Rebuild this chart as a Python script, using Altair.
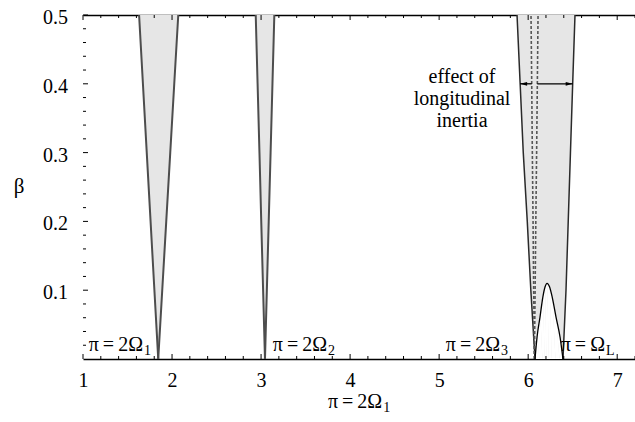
import altair as alt
import pandas as pd

# ---------------- data ----------------
beta_levels = [0.0, 0.1, 0.2, 0.3, 0.4, 0.5]

t1_left = [1.845, 1.802, 1.759, 1.716, 1.673, 1.63]
t1_right = [1.845, 1.89, 1.935, 1.98, 2.025, 2.07]

t2_left = [3.044, 3.023, 3.002, 2.982, 2.961, 2.94]
t2_right = [3.044, 3.065, 3.086, 3.107, 3.128, 3.149]

t3_left = [6.077, 6.03, 5.99, 5.945, 5.91, 5.875]
t3_right = [6.391, 6.425, 6.45, 6.475, 6.50, 6.526]

t3_dash_left = [6.07, 6.062, 6.055, 6.047, 6.04, 6.032]
t3_dash_right = [6.07, 6.078, 6.086, 6.095, 6.103, 6.111]

arch_x = [6.077, 6.10, 6.133, 6.165, 6.19, 6.212, 6.24, 6.27, 6.313, 6.358, 6.391]
arch_beta = [0.0, 0.032, 0.061, 0.09, 0.105, 0.11, 0.105, 0.09, 0.061, 0.032, 0.0]

arrow_beta = 0.40
arrow_left = [5.91, 6.04]
arrow_right = [6.103, 6.50]

x_major = [1, 2, 3, 4, 5, 6, 7]
x_minor = [1.2, 1.4, 1.6, 1.8, 2.2, 2.4, 2.6, 2.8, 3.2, 3.4, 3.6, 3.8,
           4.2, 4.4, 4.6, 4.8, 5.2, 5.4, 5.6, 5.8, 6.2, 6.4, 6.6, 6.8, 7.2]
y_major = [0.1, 0.2, 0.3, 0.4, 0.5]
y_major_labels = ["0.1", "0.2", "0.3", "0.4", "0.5"]
y_minor = [0.02, 0.04, 0.06, 0.08, 0.12, 0.14, 0.16, 0.18, 0.22, 0.24, 0.26,
           0.28, 0.32, 0.34, 0.36, 0.38, 0.42, 0.44, 0.46, 0.48]

label_main = ["π\u2009=\u20092Ω", "π\u2009=\u20092Ω", "π\u2009=\u20092Ω", "π\u2009=\u2009Ω"]
label_sub = ["1", "2", "3", "L"]
label_x = [1.674, 3.741, 5.684, 6.863]

note_lines = ["effect of", "longitudinal", "inertia"]
note_beta = [0.41, 0.378, 0.346]
note_x = 5.257

y_title = "β"
y_title_beta = 0.25

# ---------------- layout ----------------
W, H = 552, 344
FONT = "Liberation Serif, Times New Roman, serif"
FS = 20
xs = alt.Scale(domain=[1, 7.2], nice=False, zero=False)
ys = alt.Scale(domain=[0, 0.5], nice=False, zero=False)

fill_df = pd.concat([
    pd.DataFrame({"tongue": "T1", "beta": beta_levels, "left": t1_left, "right": t1_right}),
    pd.DataFrame({"tongue": "T2", "beta": beta_levels, "left": t2_left, "right": t2_right}),
    pd.DataFrame({"tongue": "T3", "beta": beta_levels, "left": t3_left, "right": t3_right}),
])


def long(name, vals):
    return pd.DataFrame({"line": name, "beta": beta_levels, "x": vals})


outer12 = pd.concat([long("a", t1_left), long("b", t1_right), long("c", t2_left), long("d", t2_right)])
outer3 = pd.concat([long("e", t3_left), long("f", t3_right)])
dashed = pd.concat([long("g", t3_dash_left), long("h", t3_dash_right)])
arch_df = pd.DataFrame({"x": arch_x, "beta": arch_beta, "i": list(range(len(arch_x)))})

fills = alt.Chart(fill_df).mark_area(orient="horizontal", color="#e6e6e6").encode(
    y=alt.Y("beta:Q", scale=ys, axis=alt.Axis(
        orient="left", labels=False, ticks=False, grid=False, domainColor="black",
        domainWidth=1.5, title=None)),
    x=alt.X("left:Q", scale=xs, axis=alt.Axis(
        orient="bottom", values=x_major, format="d", ticks=False, tickSize=0, grid=False,
        domainColor="black", domainWidth=1.5, labelFont=FONT, labelFontSize=FS,
        labelColor="black", labelPadding=11, labelFlush=False, title=None)),
    x2="right:Q",
    detail="tongue:N",
)

top_axis = alt.Chart(pd.DataFrame({"x": x_major})).mark_rule(color="black", strokeWidth=1).encode(
    x=alt.X("x:Q", scale=xs, axis=alt.Axis(
        orient="top", labels=False, ticks=False, grid=False, domainColor="black",
        domainWidth=1.5, title=None)),
    y=alt.value(0), y2=alt.value(5),
)

arch_fill = alt.Chart(arch_df).mark_area(color="white", interpolate="monotone").encode(
    x=alt.X("x:Q", scale=xs, axis=None), y=alt.Y("beta:Q", scale=ys, axis=None), order="i:Q")

lines12 = alt.Chart(outer12).mark_line(color="#4d4d4d", strokeWidth=2).encode(
    x=alt.X("x:Q", scale=xs, axis=None), y=alt.Y("beta:Q", scale=ys, axis=None),
    detail="line:N", order="beta:Q")
lines3 = alt.Chart(outer3).mark_line(color="#2a2a2a", strokeWidth=1.5).encode(
    x=alt.X("x:Q", scale=xs, axis=None), y=alt.Y("beta:Q", scale=ys, axis=None),
    detail="line:N", order="beta:Q")
dash_lines = alt.Chart(dashed).mark_line(color="#555555", strokeWidth=1.6, strokeDash=[3, 2]).encode(
    x=alt.X("x:Q", scale=xs, axis=None), y=alt.Y("beta:Q", scale=ys, axis=None),
    detail="line:N", order="beta:Q")
arch_line = alt.Chart(arch_df).mark_line(color="black", strokeWidth=1.3, interpolate="monotone").encode(
    x=alt.X("x:Q", scale=xs, axis=None), y=alt.Y("beta:Q", scale=ys, axis=None), order="i:Q")

arrow_df = pd.DataFrame({"x1": [arrow_left[0], arrow_right[0]], "x2": [arrow_left[1], arrow_right[1]],
                         "beta": [arrow_beta, arrow_beta]})
arrow_rules = alt.Chart(arrow_df).mark_rule(color="black", strokeWidth=1.3).encode(
    x=alt.X("x1:Q", scale=xs, axis=None), x2="x2:Q", y=alt.Y("beta:Q", scale=ys, axis=None))
head_l = alt.Chart(pd.DataFrame({"x": [arrow_left[0]], "beta": [arrow_beta]})).mark_point(
    shape="M-1,0L1,-0.55L1,0.55Z", filled=True, size=49, color="black", opacity=1, xOffset=3.5).encode(
    x=alt.X("x:Q", scale=xs, axis=None), y=alt.Y("beta:Q", scale=ys, axis=None))
head_r = alt.Chart(pd.DataFrame({"x": [arrow_right[1]], "beta": [arrow_beta]})).mark_point(
    shape="M1,0L-1,-0.55L-1,0.55Z", filled=True, size=49, color="black", opacity=1, xOffset=-3.5).encode(
    x=alt.X("x:Q", scale=xs, axis=None), y=alt.Y("beta:Q", scale=ys, axis=None))


# ticks drawn inward
def xticks(vals, y0, y1):
    return alt.Chart(pd.DataFrame({"x": vals})).mark_rule(color="black", strokeWidth=1).encode(
        x=alt.X("x:Q", scale=xs, axis=None), y=alt.value(y0), y2=alt.value(y1))


def yticks(vals, ln):
    return alt.Chart(pd.DataFrame({"y": vals})).mark_rule(color="black", strokeWidth=1).encode(
        y=alt.Y("y:Q", scale=ys, axis=None), x=alt.value(0), x2=alt.value(ln))


ticks = [xticks(x_major, H, H - 5), xticks(x_minor, H, H - 3),
         xticks(x_minor, 0, 3), yticks(y_major, 5), yticks(y_minor, 3)]

# y tick labels and title as text marks placed through the y scale
ylab_df = pd.DataFrame({"y": y_major, "t": y_major_labels})
ylabels = alt.Chart(ylab_df).mark_text(align="right", baseline="middle", font=FONT, fontSize=FS,
                                       color="black", dy=3).encode(
    y=alt.Y("y:Q", scale=ys, axis=None), x=alt.value(-15), text="t:N")
ytitle = alt.Chart(pd.DataFrame({"y": [y_title_beta], "t": [y_title]})).mark_text(
    align="center", baseline="middle", font=FONT, fontSize=21, color="black").encode(
    y=alt.Y("y:Q", scale=ys, axis=None), x=alt.value(-64), text="t:N")

lab_df = pd.DataFrame({"x": label_x, "main": label_main, "sub": label_sub})
lab_main = alt.Chart(lab_df).mark_text(align="right", baseline="middle", font=FONT, fontSize=FS,
                                       color="black").encode(
    x=alt.X("x:Q", scale=xs, axis=None), y=alt.value(H - 14), text="main:N")
lab_sub = alt.Chart(lab_df).mark_text(align="left", baseline="middle", font=FONT, fontSize=14,
                                      color="black", dx=1, dy=6).encode(
    x=alt.X("x:Q", scale=xs, axis=None), y=alt.value(H - 14), text="sub:N")

title_df = pd.DataFrame({"x": [4.36], "main": ["π\u2009=\u20092Ω"], "sub": ["1"]})
title_main = alt.Chart(title_df).mark_text(align="right", baseline="middle", font=FONT, fontSize=FS,
                                           color="black").encode(
    x=alt.X("x:Q", scale=xs, axis=None), y=alt.value(H + 43), text="main:N")
title_sub = alt.Chart(title_df).mark_text(align="left", baseline="middle", font=FONT, fontSize=14,
                                          color="black", dx=1, dy=6).encode(
    x=alt.X("x:Q", scale=xs, axis=None), y=alt.value(H + 43), text="sub:N")

note_df = pd.DataFrame({"t": note_lines, "beta": note_beta, "x": [note_x] * 3})
note = alt.Chart(note_df).mark_text(align="center", baseline="middle", font=FONT, fontSize=FS,
                                    color="black").encode(
    x=alt.X("x:Q", scale=xs, axis=None), y=alt.Y("beta:Q", scale=ys, axis=None), text="t:N")

chart = alt.layer(
    fills, arch_fill, lines12, lines3, dash_lines, arch_line,
    arrow_rules, head_l, head_r, *ticks, top_axis,
    ylabels, ytitle, lab_main, lab_sub, title_main, title_sub, note,
).resolve_axis(x="independent").properties(
    width=W, height=H,
    autosize=alt.AutoSizeParams(type="none"),
    padding={"left": 83, "top": 15, "right": 0, "bottom": 63},
).configure(background="white").configure_view(stroke=None)

chart.save("out.html", embed_options={"renderer": "svg", "actions": False})
